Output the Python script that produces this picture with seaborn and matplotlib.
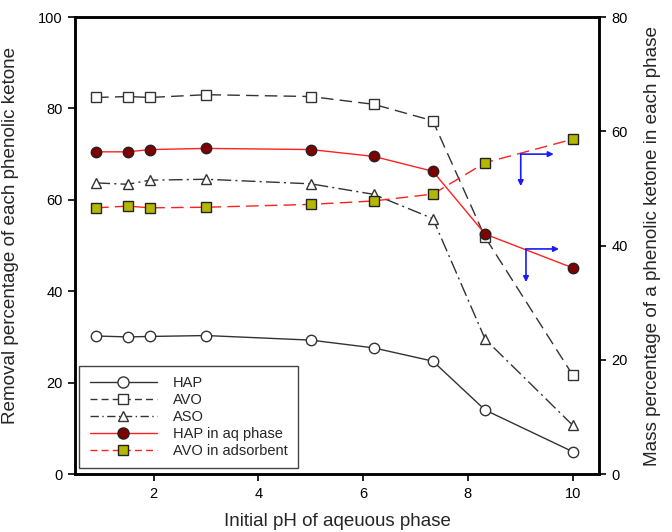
import matplotlib
matplotlib.use("Agg")
import matplotlib.pyplot as plt
import seaborn as sns
from matplotlib.lines import Line2D

# ==========================
# data
# ==========================
ph = [0.9, 1.5, 1.93, 3.0, 5.0, 6.2, 7.33, 8.33, 10.0]

# left axis: removal percentage
hap = [30.2, 30.0, 30.1, 30.3, 29.3, 27.6, 24.7, 14.0, 4.9]
avo = [82.4, 82.6, 82.4, 83.0, 82.6, 80.9, 77.3, 51.8, 21.7]
aso = [63.7, 63.4, 64.3, 64.5, 63.5, 61.2, 55.9, 29.5, 10.7]

# right axis: mass percentage
hap_aq = [56.4, 56.4, 56.8, 57.0, 56.8, 55.6, 53.0, 42.0, 36.1]
avo_ads = [46.6, 46.9, 46.6, 46.7, 47.2, 47.8, 49.0, 54.5, 58.6]

labels = ["HAP", "AVO", "ASO", "HAP in aq phase", "AVO in adsorbent"]

# blue "read on right axis" arrows: corner, right tip, bottom tip
arrow_corners = [(9.01, 56.0), (9.11, 39.4)]
arrow_right_x = [9.64, 9.74]
arrow_down_y = [50.4, 33.6]

# ==========================
# style
# ==========================
sns.set_style("ticks")
plt.rcParams["font.family"] = ["Liberation Sans", "DejaVu Sans"]

dark = "#333333"
red = "#ff2020"

fig = plt.figure(figsize=(6.72, 5.32), dpi=100)
ax = fig.add_axes([0.112, 0.109, 0.779, 0.859])
ax2 = ax.twinx()

common = dict(ax=ax, markersize=7.5, markeredgewidth=1.0, linewidth=1.0,
              legend=False)

sns.lineplot(x=ph, y=hap, marker="o", color=dark, linestyle="-",
             markerfacecolor="white", markeredgecolor=dark, **common)
sns.lineplot(x=ph, y=avo, marker="s", color=dark, linestyle=(0, (9, 4.5)),
             markerfacecolor="white", markeredgecolor=dark, **common)
sns.lineplot(x=ph, y=aso, marker="^", color=dark, linestyle=(0, (10, 3, 1.5, 3)),
             markerfacecolor="white", markeredgecolor=dark, **common)

common["ax"] = ax2
sns.lineplot(x=ph, y=hap_aq, marker="o", color=red, linestyle="-",
             markerfacecolor="#800000", markeredgecolor="#222222", **common)
sns.lineplot(x=ph, y=avo_ads, marker="s", color=red, linestyle=(0, (9, 4.5)),
             markerfacecolor="#b5b800", markeredgecolor="#222222", **common)

# arrows
for (cx, cy), rx, dy in zip(arrow_corners, arrow_right_x, arrow_down_y):
    ap = dict(arrowstyle="-|>", color="#1a1aff", lw=1.2, mutation_scale=8,
              shrinkA=0, shrinkB=0)
    ax2.annotate("", xy=(rx, cy), xytext=(cx, cy), arrowprops=ap)
    ax2.annotate("", xy=(cx, dy), xytext=(cx, cy), arrowprops=ap)

# axes
ax.set_xlim(0.5, 10.5)
ax.set_ylim(0, 100)
ax2.set_ylim(0, 80)
ax.set_xticks([2, 4, 6, 8, 10])
ax.set_yticks([0, 20, 40, 60, 80, 100])
ax2.set_yticks([0, 20, 40, 60, 80])

for a in (ax, ax2):
    a.tick_params(direction="out", length=5, width=1.2, labelsize=10.5,
                  colors="black", pad=4)
    for s in a.spines.values():
        s.set_linewidth(1.8)
        s.set_color("black")
        s.set_visible(True)

ax.set_xlabel("Initial pH of aqeuous phase", fontsize=13.5, labelpad=9)
ax.set_ylabel("Removal percentage of each phenolic ketone", fontsize=13.6)
ax.yaxis.set_label_coords(-0.107, 0.522)
ax2.set_ylabel("Mass percentage of a phenolic ketone in each phase",
               fontsize=13.6, labelpad=12)

# legend
handles = [
    Line2D([0], [0], color=dark, lw=1, ls="-", marker="o", ms=8,
           mfc="white", mec=dark),
    Line2D([0], [0], color=dark, lw=1, ls=(0, (5, 3)), marker="s", ms=7,
           mfc="white", mec=dark),
    Line2D([0], [0], color=dark, lw=1, ls=(0, (6, 2.5, 1, 2.5)), marker="^",
           ms=7, mfc="white", mec=dark),
    Line2D([0], [0], color=red, lw=1, ls="-", marker="o", ms=8,
           mfc="#800000", mec="#222222"),
    Line2D([0], [0], color=red, lw=1, ls=(0, (5, 3)), marker="s", ms=7,
           mfc="#b5b800", mec="#222222"),
]
leg = ax2.legend(handles, labels, loc="lower left",
                 bbox_to_anchor=(0.008, 0.013), fontsize=10.5,
                 handlelength=4.6, handletextpad=1.1, labelspacing=0.2,
                 borderpad=0.7, borderaxespad=0, fancybox=False,
                 framealpha=1)
leg.get_frame().set_edgecolor("#444444")
leg.get_frame().set_linewidth(1.0)

fig.savefig("out.png", dpi=100)
